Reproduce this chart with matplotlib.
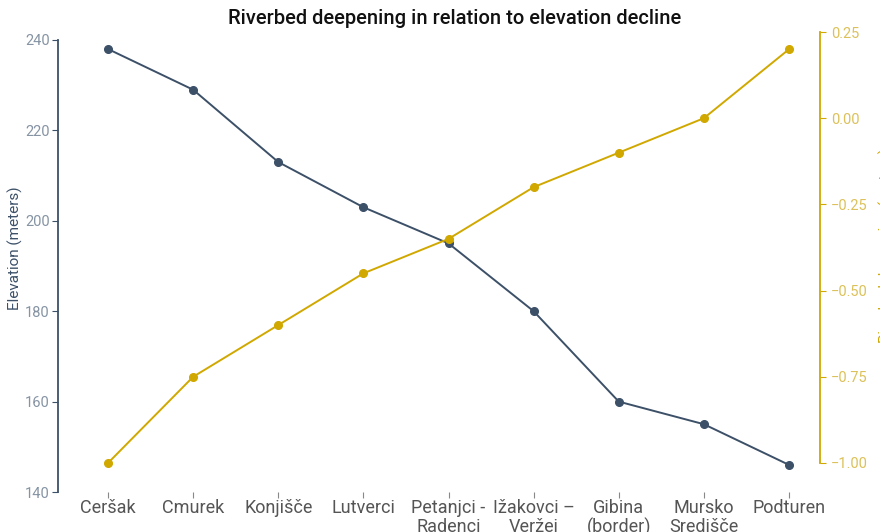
import numpy as np
import matplotlib.pyplot as plt

plt.rcParams['font.family'] = ['Roboto', 'DejaVu Sans']

places = ["Ceršak", "Cmurek", "Konjišče", "Lutverci", "Petanjci -\nRadenci",
          "Ižakovci –\nVeržej", "Gibina\n(border)", "Mursko\nSredišče", "Podturen"]
elevation = [238, 229, 213, 203, 195, 180, 160, 155, 146]
deepening = [-1.0, -0.75, -0.6, -0.45, -0.35, -0.2, -0.1, 0.0, 0.2]

slate = "#3c5068"
gold = "#d0a800"

W, H = 880, 532
fig = plt.figure(figsize=(W / 100, H / 100), dpi=100)
ax = fig.add_axes([58 / W, 1 - 492 / H, (820 - 58) / W, (492 - 25) / H])
ax2 = ax.twinx()

x = np.arange(len(places))
ax.plot(x, elevation, color=slate, lw=1.4, marker='o', ms=5.5)
ax2.plot(x, deepening, color=gold, lw=1.4, marker='o', ms=5.5)

ax.set_xlim(-50 / 85.1, 8 + 31 / 85.1)
ax.set_ylim(140, 240 + 15 / 4.52)
ax2.set_ylim(-1.0 - 29 / 344.8, 0.25 + 7 / 344.8)

ax.set_yticks([140, 160, 180, 200, 220, 240])
ax2.set_yticks([-1.0, -0.75, -0.5, -0.25, 0.0, 0.25])
ax2.set_yticklabels(["\u22121.00", "\u22120.75", "\u22120.50", "\u22120.25", "0.00", "0.25"])

ax.set_xticks(x)
ax.set_xticklabels(places, fontsize=13, color="#555555", linespacing=1.05)

for a in (ax, ax2):
    a.spines['top'].set_visible(False)
    a.spines['bottom'].set_visible(False)
ax.spines['right'].set_visible(False)
ax2.spines['left'].set_visible(False)
ax.spines['left'].set_bounds(140, 240)
ax.spines['left'].set_color(slate)
ax.spines['left'].set_linewidth(1.3)
ax2.spines['right'].set_bounds(-1.0, 0.25)
ax2.spines['right'].set_color(gold)
ax2.spines['right'].set_linewidth(1.3)

ax.tick_params(axis='y', colors=slate, labelcolor="#8593a3", labelsize=10.5, length=4, pad=2)
ax.tick_params(axis='x', color="#888888", length=4, pad=1)
ax2.tick_params(axis='y', colors=gold, labelcolor="#dcc15a", labelsize=10.5, length=4, pad=4)

ax.set_ylabel("Elevation (meters)", color=slate, fontsize=11)
ax.yaxis.set_label_coords((23 - 58) / 762, (492 - 248) / 467)
ax2.set_ylabel("Riverbed deepening (meters)", color=gold, fontsize=11)
ax2.yaxis.set_label_coords((879 - 58) / 762, (492 - 245) / 467)

fig.text(455 / W, 1 - 19 / H, "Riverbed deepening in relation to elevation decline",
         ha='center', va='center', fontsize=14.5, fontweight='medium', color="#111111")

fig.savefig("out.png", dpi=100)
